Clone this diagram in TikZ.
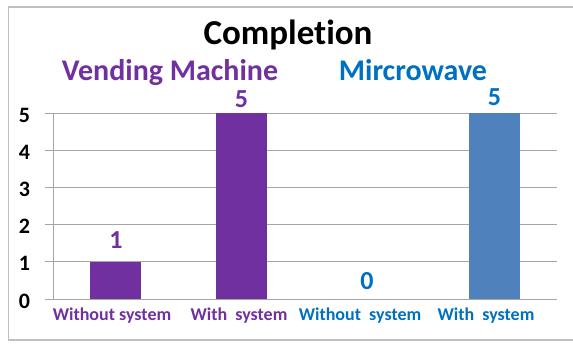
\documentclass[tikz,border=0pt]{standalone}
\usepackage{fontspec}
\setmainfont{Carlito}[Ligatures={NoCommon}]
\definecolor{vpurple}{HTML}{7030A0}
\definecolor{mblue}{HTML}{0070C0}
\definecolor{mbar}{HTML}{4F81BD}
\definecolor{gridgray}{HTML}{A6A6A6}
\definecolor{framegray}{HTML}{BFBFBF}
\begin{document}
\begin{tikzpicture}[x=1pt,y=-1pt,
  gridline/.style={draw=gridgray,line width=1pt},
  framestyle/.style={draw=framegray,line width=1.2pt},
  ticklabel/.style={font=\bfseries\fontsize{22}{22}\selectfont,anchor=center,inner sep=0pt},
  vallabel/.style={font=\bfseries\fontsize{26}{26}\selectfont,anchor=base,inner sep=0pt},
  catlabel/.style={font=\bfseries\fontsize{18}{18}\selectfont,anchor=base,inner sep=0pt},
  grouplabel/.style={font=\bfseries\fontsize{30}{30}\selectfont,anchor=base,inner sep=0pt},
  barstyle/.style={draw=none}]
\useasboundingbox (0,0) rectangle (573,343);
% frame
\draw[framestyle] (573,7) -- (8.5,7) -- (8.5,340) -- (573,340);
% grid lines
\foreach \k/\yy in {0/299,1/261.8,2/224.6,3/187.4,4/150.2,5/113}{
  \draw[gridline] (45,\yy) -- (557,\yy);
  \node[ticklabel] (t\k) at (24.5,\yy+2) {\k};
}
\draw[gridline] (53,113) -- (53,299);
% bars
\fill[vpurple] (90,261.8) rectangle (141,299);
\fill[vpurple] (216,113) rectangle (267,299);
\fill[mbar] (469,113) rectangle (520,299);
% value labels
\node[vallabel,text=vpurple] (v1) at (116,248) {1};
\node[vallabel,text=vpurple] (v2) at (241.5,107) {5};
\node[vallabel,text=mblue] (v3) at (367,289) {0};
\node[vallabel,text=mblue] (v4) at (494.5,105) {5};
% category labels
\node[catlabel,text=vpurple] (c1) at (112,320) {Without system};
\node[catlabel,text=vpurple] (c2) at (239,320) {With\ \ system};
\node[catlabel,text=mblue] (c3) at (360,320) {Without\ \ system};
\node[catlabel,text=mblue] (c4) at (486,320) {With\ \ system};
% titles
\node[font=\bfseries\fontsize{35}{35}\selectfont,anchor=base,inner sep=0pt] (title) at (288,44) {Completion};
\node[grouplabel,text=vpurple] (g1) at (170,80) {Vending Machine};
\node[grouplabel,text=mblue] (g2) at (413,80) {Mircrowave};
\end{tikzpicture}
\end{document}
